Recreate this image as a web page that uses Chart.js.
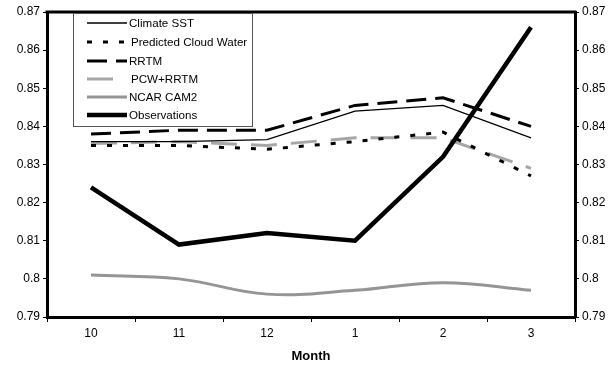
<!DOCTYPE html>
<html>
<head>
<meta charset="utf-8">
<script src="https://cdn.jsdelivr.net/npm/chart.js@4/dist/chart.umd.min.js"></script>
<style>
  html, body { margin: 0; padding: 0; background: #fff; }
  #wrap { width: 610px; height: 369px; }
</style>
</head>
<body>
<div id="wrap"><canvas id="albedoChart" width="610" height="369"></canvas></div>
<script>
// --- data ---
const months = ['10', '11', '12', '1', '2', '3'];
const climateSST   = [0.836, 0.836, 0.8365, 0.844, 0.8455, 0.837];
const predCloud    = [0.835, 0.835, 0.834, 0.836, 0.8385, 0.827];
const rrtm         = [0.838, 0.839, 0.839, 0.8455, 0.8475, 0.840];
const pcwRrtm      = [0.8355, 0.836, 0.835, 0.837, 0.837, 0.829];
const ncarCam2     = [0.801, 0.800, 0.796, 0.797, 0.799, 0.797];
const observations = [0.824, 0.809, 0.812, 0.810, 0.832, 0.866];
const yMin = 0.79, yMax = 0.87, yStep = 0.01;

const FONT = 'Liberation Sans, Arial, sans-serif';

// legend box drawn inside the plot, top-left
const boxLegend = {
    id: 'boxLegend',
    afterDraw(chart) {
        const ctx = chart.ctx;
        const x0 = 73, y0 = 13, w = 179, h = 113;
        ctx.save();
        ctx.fillStyle = '#fff';
        ctx.fillRect(x0, y0, w, h);
        ctx.strokeStyle = '#555';
        ctx.lineWidth = 1;
        ctx.strokeRect(x0 + 0.5, y0 + 0.5, w, h);
        ctx.font = '11.6px ' + FONT;
        ctx.textBaseline = 'middle';
        const rowY = [23, 42, 61, 79, 97, 115];
        chart.data.datasets.forEach((ds, i) => {
            const y = rowY[i];
            const end = ds.label === 'PCW+RRTM' ? 113 : 127;
            ctx.beginPath();
            ctx.strokeStyle = ds.borderColor;
            ctx.lineWidth = ds.borderWidth;
            ctx.setLineDash(ds.borderDash || []);
            ctx.moveTo(87, y);
            ctx.lineTo(end, y);
            ctx.stroke();
            ctx.setLineDash([]);
            ctx.fillStyle = '#000';
            ctx.fillText(ds.label, ds.label === 'PCW+RRTM' || ds.label === 'Predicted Cloud Water' ? 131 : 129, y + 1);
        });
        ctx.restore();
    }
};

// top edge of the frame (the axes supply the other three)
const topBorder = {
    id: 'topBorder',
    afterDraw(chart) {
        const a = chart.chartArea, ctx = chart.ctx;
        ctx.save();
        ctx.strokeStyle = '#000';
        ctx.lineWidth = 3;
        ctx.beginPath();
        ctx.moveTo(a.left - 1.5, a.top);
        ctx.lineTo(a.right + 1.5, a.top);
        ctx.stroke();
        ctx.restore();
    }
};

const yTickFmt = v => String(+v.toFixed(2));

const yScale = (pos, width) => ({
    position: pos,
    min: yMin,
    max: yMax,
    ticks: {
        stepSize: yStep,
        callback: yTickFmt,
        color: '#000',
        font: { family: FONT, size: 12 },
        padding: 3
    },
    grid: { drawOnChartArea: false, tickLength: 4, color: '#000' },
    border: { color: '#000', width: 3 },
    afterFit: s => { s.width = width; }
});

new Chart(document.getElementById('albedoChart').getContext('2d'), {
    type: 'line',
    data: {
        labels: months,
        datasets: [
            { label: 'Climate SST', data: climateSST, borderColor: '#000', borderWidth: 1.3 },
            { label: 'Predicted Cloud Water', data: predCloud, borderColor: '#000', borderWidth: 3, borderDash: [5, 11] },
            { label: 'RRTM', data: rrtm, borderColor: '#000', borderWidth: 3, borderDash: [20, 9] },
            { label: 'PCW+RRTM', data: pcwRrtm, borderColor: '#a6a6a6', borderWidth: 3, borderDash: [26, 14] },
            { label: 'NCAR CAM2', data: ncarCam2, borderColor: '#959595', borderWidth: 3, tension: 0.4 },
            { label: 'Observations', data: observations, borderColor: '#000', borderWidth: 4.5, order: -1 }
        ]
    },
    options: {
        responsive: false,
        animation: false,
        layout: { padding: { top: 12, left: 0, right: 0, bottom: 0 } },
        elements: { point: { radius: 0 }, line: { fill: false, borderCapStyle: 'butt' } },
        plugins: { legend: { display: false }, tooltip: { enabled: false } },
        scales: {
            x: {
                offset: true,
                ticks: { color: '#000', font: { family: FONT, size: 12 }, padding: 4 },
                grid: { offset: true, drawOnChartArea: false, tickLength: 5, color: '#000' },
                border: { color: '#000', width: 3 },
                title: {
                    display: true,
                    text: 'Month',
                    color: '#000',
                    font: { family: FONT, size: 13, weight: 'bold' },
                    padding: { top: 2, bottom: 5 }
                },
                afterFit: s => { s.height = 52; }
            },
            y: yScale('left', 47),
            y2: yScale('right', 35)
        }
    },
    plugins: [topBorder, boxLegend]
});
</script>
</body>
</html>
